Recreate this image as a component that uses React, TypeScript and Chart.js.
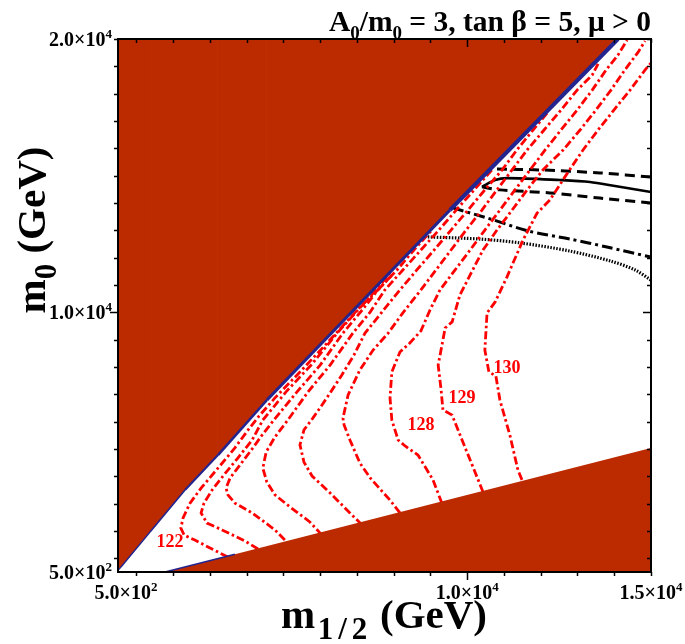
import React, { useEffect, useRef } from 'react';
import { Chart, registerables } from 'chart.js';

Chart.register(...registerables);

// ---------------- axes ----------------
const X_MIN = 500;
const X_MAX = 15000;
const Y_MIN = 500;
const Y_MAX = 20000;
const xTickValues = [1000, 2000, 3000, 4000, 5000, 6000, 7000, 8000, 9000, 10000, 11000, 12000, 13000, 14000, 15000];
const yTickValues = [1000, 2000, 3000, 4000, 5000, 6000, 7000, 8000, 9000, 10000, 11000, 12000, 13000, 14000, 15000, 16000, 17000, 18000, 19000, 20000];
const majorTickValues = [10000];
const xLabelValues = [500, 10000, 15000];
const xLabelTexts = ['5.0×10^2', '1.0×10^4', '1.5×10^4'];
const yLabelValues = [500, 10000, 20000];
const yLabelTexts = ['5.0×10^2', '1.0×10^4', '2.0×10^4'];

// ---------------- excluded regions ----------------
const upperRegionX = [500, 582, 1371, 2323, 3220, 4553, 9532, 14102];
const upperRegionY = [560, 683, 1963, 3500, 4780, 6793, 13744, 20000];
const lowerRegionX = [1780, 3680, 15000];
const lowerRegionY = [500, 1152, 5037];
const lowerEdgeX = [1780, 3680];
const lowerEdgeY = [500, 1152];

// ---------------- Higgs mass contours (GeV) ----------------
const h122X = [3490, 3060, 2590, 2300, 2210, 2270, 2460, 2760, 3220, 3680, 4040, 4340, 4770, 5450, 6240, 7060, 7570, 7930];
const h122Y = [1050, 1340, 1670, 1850, 2110, 2480, 3020, 3570, 4300, 5040, 5700, 6210, 6870, 7820, 8950, 10160, 10820, 11330];
const h123X = [4310, 3960, 3330, 2920, 2760, 2840, 3060, 3380, 3760, 4150, 4440, 5070, 5780, 6460, 7080, 7520, 7900];
const h123Y = [1340, 1630, 2040, 2290, 2660, 3020, 3500, 4050, 4670, 5330, 6060, 7090, 8110, 9240, 10160, 10820, 11440];
const h124X = [5040, 4770, 4150, 3680, 3490, 3440, 3550, 3820, 4170, 4420, 4740, 5370, 6000, 6620, 7190, 7570, 8090, 8550, 9040];
const h124Y = [1670, 2040, 2660, 3020, 3320, 3570, 3940, 4420, 5040, 5510, 6060, 7090, 8070, 9240, 10160, 10820, 11550, 12280, 13010];
const h125X = [6050, 5720, 5180, 4770, 4550, 4440, 4530, 4770, 5120, 5670, 6270, 6890, 7360, 7760, 8250, 8740, 9230, 9700, 10190, 10670];
const h125Y = [1850, 2330, 2880, 3320, 3790, 4300, 4890, 5440, 6060, 7090, 8070, 9240, 10010, 10820, 11550, 12280, 13010, 13740, 14480, 15210];
const h126X = [7140, 6810, 6270, 5780, 5560, 5450, 5560, 5800, 6050, 6290, 6590, 6920, 7220, 7680, 8170, 8630, 9100, 9560, 10020, 10480, 10950, 11350, 11790, 12200];
const h126Y = [2220, 2660, 3390, 4010, 4520, 5150, 5700, 6130, 6610, 7090, 7710, 8440, 9240, 10010, 10820, 11550, 12280, 13010, 13740, 14480, 15210, 15940, 16670, 17330];
const h127X = [8170, 7900, 7360, 7080, 6810, 6650, 6620, 6760, 7080, 7440, 7850, 8250, 8740, 9150, 9560, 9970, 10400, 10810, 11220, 11630, 12090, 12550, 12990, 13400, 13560];
const h127Y = [2660, 3130, 3940, 4490, 5330, 5880, 6130, 6980, 7890, 8620, 9240, 9980, 10820, 11550, 12280, 13010, 13740, 14480, 15210, 15940, 16670, 17400, 18130, 18680, 19090];
const h128X = [9310, 9070, 8660, 8310, 8120, 7950, 7900, 7950, 8170, 8440, 8740, 8990, 9260, 9670, 10080, 10480, 10890, 11300, 11710, 12120, 12550, 12990, 13400, 13780, 14100, 14350];
const h128Y = [3020, 3870, 4780, 5110, 5330, 6060, 6870, 7820, 8550, 8880, 9320, 10090, 10820, 11550, 12280, 13010, 13740, 14480, 15210, 15940, 16670, 17400, 18130, 18870, 19410, 19960];
const h129X = [10430, 10190, 9860, 9590, 9340, 9290, 9210, 9340, 9400, 9590, 9800, 10080, 10430, 10810, 11220, 11630, 12060, 12610, 13070, 13500, 13910, 14290, 14650, 14840];
const h129Y = [3430, 4230, 5330, 6240, 6430, 7160, 8070, 8990, 9430, 9650, 10630, 11370, 12280, 13010, 13740, 14480, 15210, 15940, 16670, 17400, 18130, 18870, 19520, 19930];
const h130X = [11490, 11380, 11160, 10890, 10780, 10590, 10480, 10540, 10760, 11080, 11520, 11900, 12250, 12690, 13150, 13560, 13990, 14430, 14840, 15000];
const h130Y = [3870, 4230, 5510, 6790, 7670, 7820, 8620, 9980, 10380, 11290, 12650, 13630, 14110, 15020, 15940, 16670, 17400, 18130, 18870, 19120];

const contourLabels = ['122', '128', '129', '130'];
const contourLabelX = [1915, 8740, 9860, 11080];
const contourLabelY = [1598, 5880, 6870, 7960];

// ---------------- black curves ----------------
const upperDashX = [10810, 11980, 13610, 15000];
const upperDashY = [15240, 15210, 15100, 14950];
const solidX = [10400, 10760, 11080, 12520, 13340, 14020, 15000];
const solidY = [14590, 14840, 14910, 14840, 14770, 14620, 14400];
const lowerDashX = [10400, 10890, 12250, 13610, 15000];
const lowerDashY = [14590, 14480, 14370, 14180, 14000];
const dashDotX = [9610, 10620, 11650, 12800, 13800, 15000];
const dashDotY = [13820, 13420, 12980, 12680, 12390, 12020];
const dottedX = [8930, 10350, 11440, 12800, 13890, 14570, 15000];
const dottedY = [12760, 12680, 12540, 12240, 11880, 11550, 11180];

const REGION_COLOR = '#bc2a00';
const BLUE = '#24248f';
const RED = '#ff0000';
const FONT = '"Liberation Serif", "Times New Roman", serif';

const pts = (xs: number[], ys: number[]) => xs.map((x, i) => ({ x, y: ys[i] }));

type Part = { t: string; s: 'n' | 'sub' | 'sup'; ls?: number };

function drawRich(
  ctx: CanvasRenderingContext2D,
  parts: Part[],
  x: number,
  y: number,
  align: 'left' | 'center' | 'right',
  size: number,
  smallRatio = 0.65
) {
  const small = Math.round(size * smallRatio);
  const fontFor = (p: Part) => `bold ${p.s === 'n' ? size : small}px ${FONT}`;
  const partWidth = (p: Part) => {
    ctx.font = fontFor(p);
    if (!p.ls) return ctx.measureText(p.t).width;
    let w = 0;
    for (const ch of p.t) w += ctx.measureText(ch).width + p.ls;
    return w;
  };
  let w = 0;
  for (const p of parts) w += partWidth(p);
  let cx = align === 'right' ? x - w : align === 'center' ? x - w / 2 : x;
  ctx.textAlign = 'left';
  ctx.textBaseline = 'alphabetic';
  for (const p of parts) {
    ctx.font = fontFor(p);
    const dy = p.s === 'sub' ? size * 0.28 : p.s === 'sup' ? -size * 0.4 : 0;
    if (p.ls) {
      cx += p.ls / 2;
      for (const ch of p.t) {
        ctx.fillText(ch, cx, y + dy);
        cx += ctx.measureText(ch).width + p.ls;
      }
      cx -= p.ls / 2;
    } else {
      ctx.fillText(p.t, cx, y + dy);
      cx += ctx.measureText(p.t).width;
    }
  }
}

function sciParts(label: string): Part[] {
  const [m, e] = label.split('^');
  return [{ t: m, s: 'n' }, { t: e, s: 'sup' }];
}

const overlayPlugin = {
  id: 'overlay',
  afterDatasetsDraw(chart: any) {
    const { ctx, scales } = chart;
    ctx.save();
    ctx.fillStyle = RED;
    ctx.font = `bold 18px ${FONT}`;
    ctx.textAlign = 'center';
    ctx.textBaseline = 'middle';
    contourLabels.forEach((t, i) => {
      ctx.fillText(t, scales.x.getPixelForValue(contourLabelX[i]), scales.y.getPixelForValue(contourLabelY[i]));
    });
    ctx.restore();
  },
  afterDraw(chart: any) {
    const { ctx, chartArea: a, scales } = chart;
    const xs = scales.x;
    const ys = scales.y;
    ctx.save();
    ctx.strokeStyle = '#000';
    ctx.fillStyle = '#000';
    ctx.lineWidth = 2;
    ctx.strokeRect(a.left, a.top, a.right - a.left, a.bottom - a.top);
    ctx.lineWidth = 1.5;
    ctx.beginPath();
    for (const v of xTickValues) {
      const px = Math.round(xs.getPixelForValue(v)) + 0.5;
      const len = majorTickValues.includes(v) ? 8 : 4;
      ctx.moveTo(px, a.bottom);
      ctx.lineTo(px, a.bottom + len);
      ctx.moveTo(px, a.top);
      ctx.lineTo(px, a.top + len);
    }
    for (const v of yTickValues) {
      const py = Math.round(ys.getPixelForValue(v)) + 0.5;
      const len = majorTickValues.includes(v) ? 8 : 4;
      ctx.moveTo(a.left - len, py);
      ctx.lineTo(a.left, py);
      ctx.moveTo(a.right - len, py);
      ctx.lineTo(a.right, py);
    }
    ctx.stroke();

    // tick labels
    xLabelValues.forEach((v, i) => {
      const px = xs.getPixelForValue(v) + (i === 0 ? 8 : 0);
      drawRich(ctx, sciParts(xLabelTexts[i]), px, a.bottom + 27, 'center', 20);
    });
    yLabelValues.forEach((v, i) => {
      const py = ys.getPixelForValue(v);
      drawRich(ctx, sciParts(yLabelTexts[i]), a.left - 6, py + 7, 'right', 20);
    });

    // title
    drawRich(
      ctx,
      [
        { t: 'A', s: 'n' },
        { t: '0', s: 'sub' },
        { t: '/m', s: 'n' },
        { t: '0', s: 'sub' },
        { t: ' = 3, tan β = 5, μ > 0', s: 'n' },
      ],
      a.right,
      31,
      'right',
      29.5
    );

    // x title
    drawRich(
      ctx,
      [
        { t: 'm', s: 'n' },
        { t: '1/2', s: 'sub', ls: 5 },
        { t: ' (GeV)', s: 'n' },
      ],
      384,
      628,
      'center',
      41,
      0.75
    );

    // y title
    ctx.save();
    ctx.translate(45, 230);
    ctx.rotate(-Math.PI / 2);
    drawRich(
      ctx,
      [
        { t: 'm', s: 'n' },
        { t: '0', s: 'sub' },
        { t: ' (GeV)', s: 'n' },
      ],
      0,
      0,
      'center',
      41,
      0.75
    );
    ctx.restore();
    ctx.restore();
  },
};

const contour = (label: string, xs: number[], ys: number[]) => ({
  label,
  data: pts(xs, ys),
  borderColor: RED,
  borderWidth: 2.8,
  borderDash: [8, 3, 2.5, 3],
  fill: false,
  pointRadius: 0,
  tension: 0,
  order: 2,
  clip: 0,
});

const blackLine = (label: string, xs: number[], ys: number[], dash: number[], width: number) => ({
  label,
  data: pts(xs, ys),
  borderColor: '#000',
  borderWidth: width,
  borderDash: dash,
  fill: false,
  pointRadius: 0,
  tension: 0.3,
  order: 2,
  clip: 0,
});

const diagWidths = [1.2, 1.4, 1.7, 2.1, 2.6, 3.2, 4];

export default function App() {
  const canvasRef = useRef<HTMLCanvasElement | null>(null);

  useEffect(() => {
    if (!canvasRef.current) return;
    const chart = new Chart(canvasRef.current, {
      type: 'line',
      data: {
        datasets: [
          {
            label: 'upper excluded',
            data: pts(upperRegionX, upperRegionY),
            fill: 'end',
            backgroundColor: REGION_COLOR,
            borderColor: BLUE,
            borderWidth: 3,
            segment: { borderWidth: (c: any) => diagWidths[c.p0DataIndex] ?? 3 },
            pointRadius: 0,
            tension: 0,
            order: 1,
            clip: 0,
          } as any,
          {
            label: 'lower edge',
            data: pts(lowerEdgeX, lowerEdgeY),
            fill: false,
            borderColor: BLUE,
            borderWidth: 1.5,
            pointRadius: 0,
            tension: 0,
            order: 0,
            clip: 0,
          } as any,
          {
            label: 'lower excluded',
            data: pts(lowerRegionX, lowerRegionY),
            fill: 'start',
            backgroundColor: REGION_COLOR,
            borderColor: REGION_COLOR,
            borderWidth: 0,
            pointRadius: 0,
            tension: 0,
            order: 1,
            clip: 0,
          } as any,
          contour('122', h122X, h122Y),
          contour('123', h123X, h123Y),
          contour('124', h124X, h124Y),
          contour('125', h125X, h125Y),
          contour('126', h126X, h126Y),
          contour('127', h127X, h127Y),
          contour('128', h128X, h128Y),
          contour('129', h129X, h129Y),
          contour('130', h130X, h130Y),
          blackLine('upper dashed', upperDashX, upperDashY, [10, 6], 3),
          blackLine('solid', solidX, solidY, [], 2.6),
          blackLine('lower dashed', lowerDashX, lowerDashY, [10, 6], 3),
          blackLine('dash-dot', dashDotX, dashDotY, [11, 4, 3, 4], 3),
          blackLine('dotted', dottedX, dottedY, [1.5, 1.5], 3.2),
        ] as any,
      },
      options: {
        animation: false,
        responsive: false,
        maintainAspectRatio: false,
        devicePixelRatio: 1,
        layout: { padding: { left: 0, right: 34, top: 39, bottom: 0 } },
        plugins: {
          legend: { display: false },
          tooltip: { enabled: false },
          title: { display: false },
        },
        elements: { point: { radius: 0 } },
        scales: {
          x: {
            type: 'linear',
            min: X_MIN,
            max: X_MAX,
            grid: { display: false },
            border: { display: false },
            ticks: { display: false },
            afterBuildTicks: (s: any) => {
              s.ticks = xTickValues.map((v) => ({ value: v }));
            },
            afterFit: (s: any) => {
              s.height = 72;
            },
          },
          y: {
            type: 'linear',
            min: Y_MIN,
            max: Y_MAX,
            grid: { display: false },
            border: { display: false },
            ticks: { display: false },
            afterBuildTicks: (s: any) => {
              s.ticks = yTickValues.map((v) => ({ value: v }));
            },
            afterFit: (s: any) => {
              s.width = 118;
            },
          },
        },
      } as any,
      plugins: [overlayPlugin],
    });
    return () => chart.destroy();
  }, []);

  return (
    <div style={{ position: 'fixed', left: 0, top: 0, width: 685, height: 644, background: '#fff' }}>
      <canvas ref={canvasRef} width={685} height={644} style={{ display: 'block', width: 685, height: 644 }} />
    </div>
  );
}
